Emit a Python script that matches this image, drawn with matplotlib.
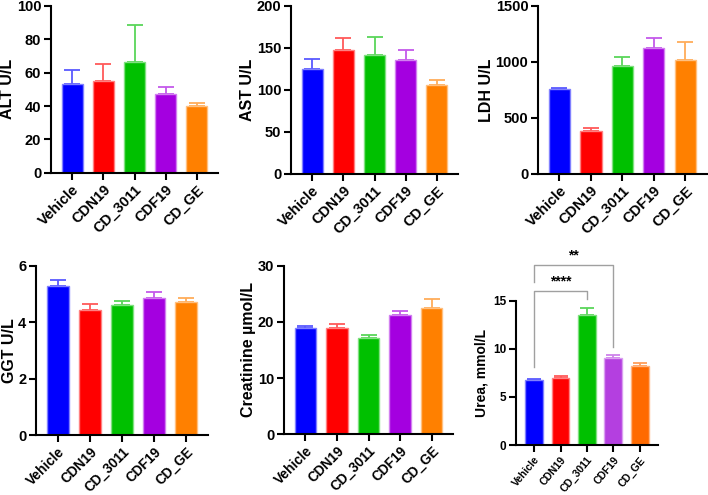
import numpy as np
import matplotlib.pyplot as plt
from matplotlib.colors import to_rgb

plt.rcParams['font.family'] = ['Liberation Sans', 'DejaVu Sans']
plt.rcParams['font.weight'] = 'bold'

groups = ["Vehicle", "CDN19", "CD_3011", "CDF19", "CD_GE"]

alt_mean = [53, 55, 66.5, 47, 40]
alt_err = [8.5, 10, 22, 4.5, 2]
ast_mean = [125, 147, 141, 135, 106]
ast_err = [12, 15, 22, 12, 6]
ldh_mean = [755, 380, 965, 1120, 1020]
ldh_err = [15, 25, 80, 95, 160]
ggt_mean = [5.27, 4.45, 4.6, 4.85, 4.73]
ggt_err = [0.23, 0.2, 0.17, 0.23, 0.12]
crea_mean = [19.0, 18.9, 17.2, 21.2, 22.5]
crea_err = [0.2, 0.7, 0.4, 0.7, 1.6]
urea_mean = [6.8, 7.0, 13.5, 9.05, 8.2]
urea_err = [0.1, 0.2, 0.75, 0.3, 0.3]

colors = ["#0000FF", "#FF0000", "#00C000", "#A400E0", "#FF8000"]
urea_colors = ["#0000FF", "#FF0000", "#00C000", "#B43FE0", "#FF6A00"]


def lighten(c, f=0.4):
    r, g, b = to_rgb(c)
    return (r + (1 - r) * f, g + (1 - g) * f, b + (1 - b) * f)


def panel(rect, means, errs, ylabel, ymax, ystep, cols,
          fs_x=10.5, fs_y=10.5, fs_lab=11.5, rot=45, cap=6, lpad=1):
    ax = fig.add_axes(rect)
    x = np.arange(len(groups))
    for i in range(len(groups)):
        ax.bar(x[i], means[i], width=0.68, color=cols[i],
               edgecolor=lighten(cols[i], 0.5), linewidth=1.0, zorder=2)
        ax.errorbar(x[i], means[i], yerr=[[0], [errs[i]]], fmt='none',
                    ecolor=lighten(cols[i], 0.35), elinewidth=1.3,
                    capsize=cap, capthick=1.3, zorder=1)
    ax.set_xlim(-0.68, len(groups) - 1 + 0.68)
    ax.set_ylim(0, ymax)
    ax.set_yticks(np.arange(0, ymax + ystep / 2, ystep))
    ax.set_xticks(x)
    ax.set_xticklabels(groups, rotation=rot, ha='right', rotation_mode='anchor',
                       fontsize=fs_x, fontweight='bold')
    for t in ax.get_yticklabels():
        t.set_fontsize(fs_y)
        t.set_fontweight('bold')
    ax.set_ylabel(ylabel, fontsize=fs_lab, fontweight='bold', labelpad=lpad)
    ax.spines['top'].set_visible(False)
    ax.spines['right'].set_visible(False)
    ax.spines['left'].set_linewidth(1.5)
    ax.spines['bottom'].set_linewidth(1.5)
    ax.tick_params(width=1.5, length=5, pad=2)
    return ax


fig = plt.figure(figsize=(7.08, 4.95), dpi=100)

panel([0.072, 0.651, 0.236, 0.337], alt_mean, alt_err, "ALT U/L", 100, 20, colors)
panel([0.411, 0.649, 0.236, 0.339], ast_mean, ast_err, "AST U/L", 200, 50, colors)
panel([0.760, 0.649, 0.238, 0.339], ldh_mean, ldh_err, "LDH U/L", 1500, 500, colors)
panel([0.051, 0.121, 0.243, 0.342], ggt_mean, ggt_err, "GGT U/L", 6, 2, colors, fs_x=9.8)
panel([0.401, 0.123, 0.239, 0.340], crea_mean, crea_err, "Creatinine \u00b5mol/L", 30, 10,
      colors, fs_x=9.8)
ax6 = panel([0.729, 0.101, 0.200, 0.291], urea_mean, urea_err, "Urea, mmol/L", 15, 5,
            urea_colors, fs_x=7.5, fs_y=8.5, fs_lab=10, rot=50, cap=5, lpad=3)

# significance brackets
gray = "#A0A0A0"
ax6.plot([0, 0, 3, 3], [17.0, 18.75, 18.75, 10.2], color=gray, lw=1.0, clip_on=False)
ax6.text(1.5, 19.0, "**", ha='center', va='bottom', fontsize=10, fontweight='bold', clip_on=False)
ax6.plot([0, 0, 2, 2], [8.1, 16.0, 16.0, 15.2], color=gray, lw=1.0, clip_on=False)
ax6.text(1.0, 16.25, "****", ha='center', va='bottom', fontsize=10, fontweight='bold', clip_on=False)

fig.savefig("out.png", dpi=100)
